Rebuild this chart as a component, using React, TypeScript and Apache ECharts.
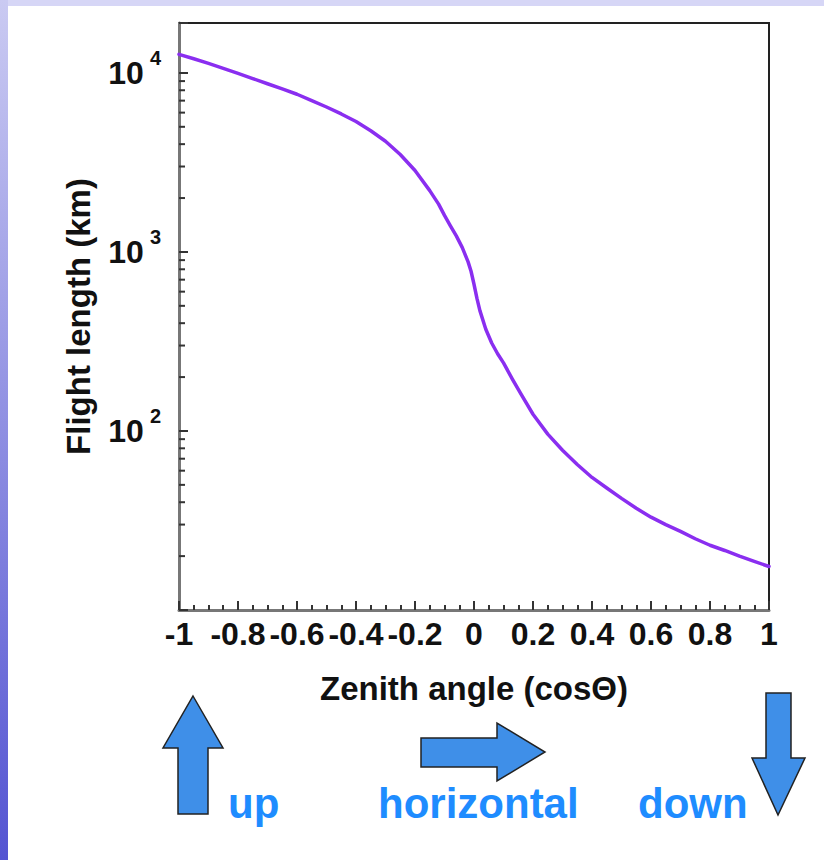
import React, { useEffect, useRef } from "react";
import * as echarts from "echarts";

// cos(theta) sample positions and flight length (km)
const COS_THETA = [
  -1, -0.95, -0.9, -0.85, -0.8, -0.75, -0.7, -0.65, -0.6, -0.55, -0.5, -0.45, -0.4, -0.35, -0.3, -0.25, -0.2, -0.15, -0.12, -0.1,
  -0.08, -0.06, -0.04, -0.02, -0.01, 0, 0.01, 0.02, 0.04, 0.06, 0.08, 0.1, 0.13, 0.16, 0.2, 0.25, 0.3, 0.35, 0.4, 0.45, 0.5,
  0.55, 0.6, 0.65, 0.7, 0.75, 0.8, 0.85, 0.9, 0.95, 1,
];
const FLIGHT_KM = [
  12700, 12000, 11300, 10600, 9950, 9300, 8700, 8150, 7600, 7000, 6450, 5900, 5350, 4750, 4150, 3500, 2850, 2200, 1850, 1600,
  1400, 1230, 1060, 880, 780, 660, 550, 470, 370, 310, 270, 240, 195, 160, 124, 96, 78, 65, 55, 48, 42,
  37, 33, 30, 27.5, 25, 23, 21.5, 20, 18.7, 17.5,
];

// minor log ticks (2..9 x 10^k) on the y axis
const Y_MINOR_TICKS = [20, 30, 40, 50, 60, 70, 80, 90, 200, 300, 400, 500, 600, 700, 800, 900, 2000, 3000, 4000, 5000, 6000, 7000, 8000, 9000];

const X_MIN = -1;
const X_MAX = 1;
const Y_MIN = 10;
const Y_MAX = 19000;

const X_TITLE = "Zenith angle (cosΘ)";
const Y_TITLE = "Flight length (km)";
const DIRECTION_LABELS = ["up", "horizontal", "down"];

const FONT = "'Liberation Sans', Arial, Helvetica, sans-serif";

export default function App() {
  const ref = useRef<HTMLDivElement>(null);

  useEffect(() => {
    document.body.style.margin = "0";
    if (!ref.current) return;
    const chart = echarts.init(ref.current, undefined, { renderer: "svg" });

    const arrowStyle = { fill: "#3f8fe8", stroke: "#222", lineWidth: 1.5 };
    const textStyle = (t: string, x: number) => ({
      type: "text",
      left: x,
      top: 782,
      style: { text: t, fill: "#1e8cff", font: `bold 42px ${FONT}` },
    });

    const option: any = {
      animation: false,
      backgroundColor: "#ffffff",
      grid: {
        left: 179,
        top: 23,
        width: 590,
        height: 587,
        show: true,
        borderColor: "#222",
        borderWidth: 2,
        containLabel: false,
      },
      xAxis: {
        type: "value",
        min: X_MIN,
        max: X_MAX,
        interval: 0.2,
        name: X_TITLE,
        nameLocation: "middle",
        nameGap: 62,
        nameTextStyle: { color: "#111", fontSize: 33, fontWeight: "bold", fontFamily: FONT },
        axisLine: { show: true, onZero: false, lineStyle: { color: "#777", width: 3 } },
        axisTick: { show: true, inside: true, length: 9, lineStyle: { color: "#333", width: 2 } },
        minorTick: { show: true, splitNumber: 4, length: 5, lineStyle: { color: "#333", width: 2 } },
        splitLine: { show: false },
        axisLabel: {
          color: "#111",
          fontSize: 32,
          fontWeight: "bold",
          fontFamily: FONT,
          margin: 8,
        },
      },
      yAxis: {
        type: "log",
        logBase: 10,
        min: Y_MIN,
        max: Y_MAX,
        name: Y_TITLE,
        nameLocation: "middle",
        nameRotate: 90,
        nameGap: 84,
        nameTextStyle: { color: "#111", fontSize: 33, fontWeight: "bold", fontFamily: FONT },
        axisLine: { show: true, onZero: false, lineStyle: { color: "#777", width: 3 } },
        axisTick: { show: true, inside: true, length: 9, lineStyle: { color: "#333", width: 2 } },
        splitLine: { show: false },
        axisLabel: {
          margin: 18,
          formatter: (v: number) => {
            const l = Math.log10(v);
            const e = Math.round(l);
            if (Math.abs(l - e) > 1e-6 || e < 2) return "";
            return `{b|10}{s|${e}}`;
          },
          rich: {
            b: { fontSize: 32, fontWeight: "bold", fontFamily: FONT, color: "#111" },
            s: { fontSize: 20, fontWeight: "bold", fontFamily: FONT, color: "#111", padding: [0, 0, 30, 6] },
          },
        },
      },
      series: [
        {
          type: "line",
          data: COS_THETA.map((c, i) => [c, FLIGHT_KM[i]]),
          showSymbol: false,
          smooth: false,
          lineStyle: { color: "#8a2ef0", width: 3.5, join: "round", cap: "round" },
          z: 3,
        },
        {
          type: "custom",
          data: Y_MINOR_TICKS.map((v) => [X_MIN, v]),
          encode: { x: 0, y: 1 },
          silent: true,
          renderItem: (params: any, api: any) => {
            const p = api.coord([api.value(0), api.value(1)]);
            return {
              type: "line",
              shape: { x1: p[0], y1: p[1], x2: p[0] + 6, y2: p[1] },
              style: { stroke: "#333", lineWidth: 2 },
            };
          },
          z: 4,
        },
      ],
      graphic: [
        {
          type: "rect",
          left: 0,
          top: 0,
          shape: { width: 824, height: 6 },
          style: { fill: "#d6d6f6" },
          silent: true,
        },
        {
          type: "rect",
          left: 0,
          top: 0,
          shape: { width: 8, height: 860 },
          style: {
            fill: new echarts.graphic.LinearGradient(0, 0, 0, 1, [
              { offset: 0, color: "#cacaf2" },
              { offset: 1, color: "#5454d2" },
            ]),
          },
          silent: true,
        },
        // up arrow
        {
          type: "polygon",
          shape: {
            points: [
              [193, 696], [223, 748], [208, 748], [208, 814], [178, 814], [178, 748], [163, 748],
            ],
          },
          style: arrowStyle,
          silent: true,
        },
        // horizontal arrow
        {
          type: "polygon",
          shape: {
            points: [
              [421, 738], [497, 738], [497, 723], [545, 752], [497, 781], [497, 767], [421, 767],
            ],
          },
          style: arrowStyle,
          silent: true,
        },
        // down arrow
        {
          type: "polygon",
          shape: {
            points: [
              [766, 693], [791, 693], [791, 758], [805, 758], [778, 815], [752, 758], [766, 758],
            ],
          },
          style: arrowStyle,
          silent: true,
        },
        textStyle(DIRECTION_LABELS[0], 228),
        textStyle(DIRECTION_LABELS[1], 378),
        textStyle(DIRECTION_LABELS[2], 638),
      ],
    };

    chart.setOption(option);
    return () => chart.dispose();
  }, []);

  return <div ref={ref} style={{ width: 824, height: 860 }} />;
}
